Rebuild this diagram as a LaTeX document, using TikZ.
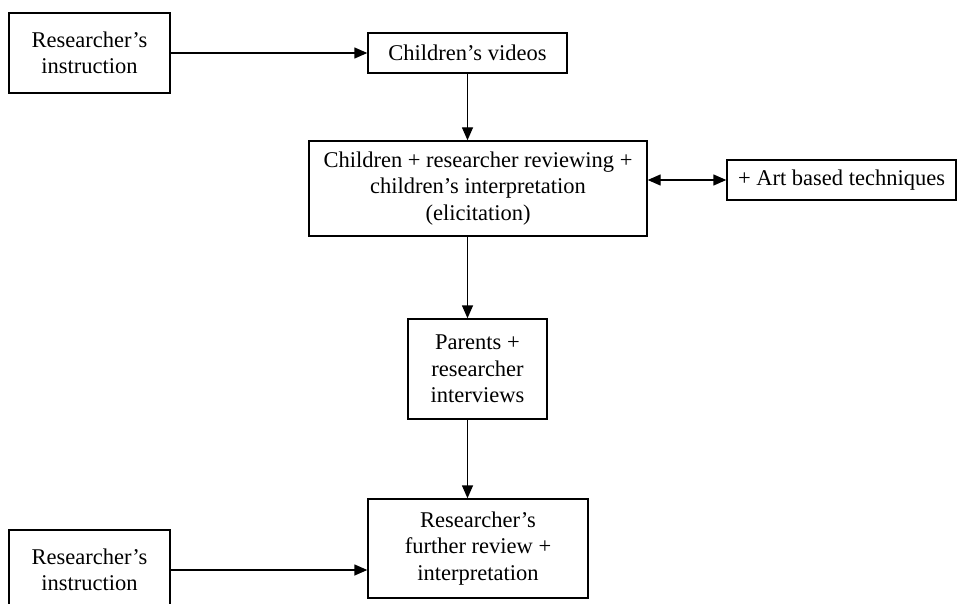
\documentclass[tikz,border=0pt]{standalone}
\usepackage{fontspec}
\setmainfont{Liberation Serif}
\usetikzlibrary{arrows.meta}
\begin{document}
\begin{tikzpicture}[x=1pt,y=-1pt,
  >={Triangle[length=13pt,width=11pt]},
  box/.style={draw, line width=1.4pt, inner sep=0pt, align=center,
    font=\fontsize{22.5}{26.5}\selectfont},
  arr/.style={line width=1.4pt}
]
\fill[white] (0,0) rectangle (958,604);
\useasboundingbox (0,0) rectangle (958,604);
\clip (0,0) rectangle (958,604);

\node[box, minimum width=161pt, minimum height=80pt] (ri1) at (89.5,53) {Researcher’s\\instruction};
\node[box, minimum width=199pt, minimum height=40pt] (vid) at (467.5,53) {Children’s videos};
\node[box, minimum width=338pt, minimum height=95pt] (big) at (478,188.5) {Children + researcher reviewing +\\children’s interpretation\\(elicitation)};
\node[box, minimum width=229pt, minimum height=40pt] (art) at (841.5,180) {+ Art based techniques};
\node[box, minimum width=139pt, minimum height=100pt] (par) at (477.5,369) {Parents +\\researcher\\interviews};
\node[box, minimum width=220pt, minimum height=99pt] (fin) at (478,548.5) {Researcher’s\\further review +\\interpretation};
\node[box, minimum width=161pt, minimum height=80pt] (ri2) at (89.5,570) {Researcher’s\\instruction};

\draw[arr,->] (ri1.east) -- (vid.west);
\draw[arr,->] (vid.south) -- (vid.south |- big.north);
\draw[arr,<->] (big.east |- art.west) -- (art.west);
\draw[arr,->] (vid.south |- big.south) -- (vid.south |- par.north);
\draw[arr,->] (vid.south |- par.south) -- (vid.south |- fin.north);
\draw[arr,->] (ri2.east) -- (fin.west |- ri2.east);
\end{tikzpicture}
\end{document}
